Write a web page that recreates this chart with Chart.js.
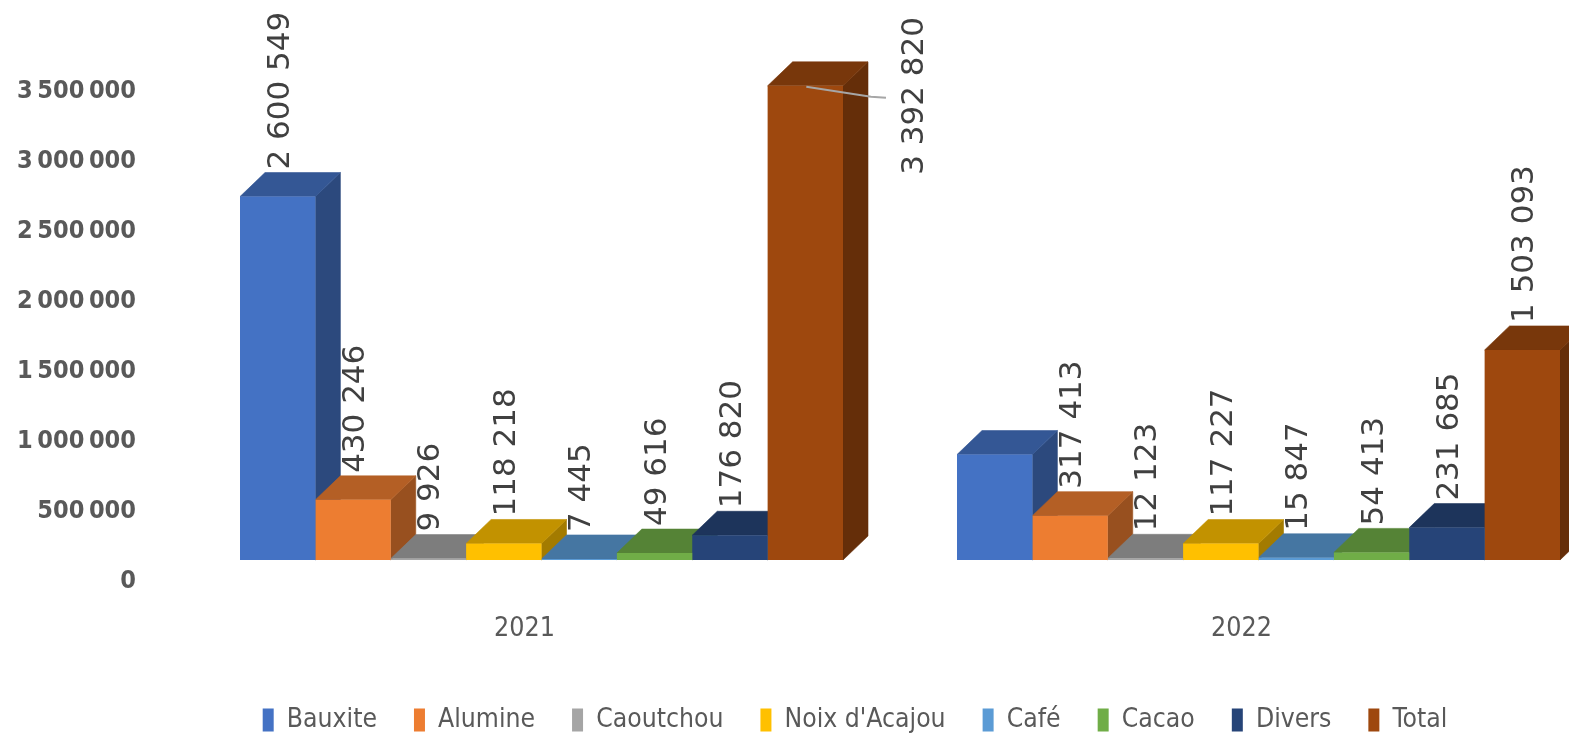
<!DOCTYPE html>
<html>
<head>
<meta charset="utf-8">
<title>Exportations 2021 - 2022</title>
<script src="https://cdn.jsdelivr.net/npm/chart.js@4.4.1/dist/chart.umd.min.js"></script>
<style>
  html, body { margin: 0; padding: 0; background: #fff; overflow: hidden; }
  #wrap { position: relative; width: 1712px; height: 739px; }
</style>
</head>
<body>
<div id="wrap"><canvas id="chart3d"></canvas></div>
<script>
var annees = ["2021", "2022"];
var produits = ["Bauxite", "Alumine", "Caoutchou", "Noix d'Acajou", "Café", "Cacao", "Divers", "Total"];

var bauxite = [2600549, 754385];
var alumine = [430246, 317413];
var caoutchou = [9926, 12123];
var noixAcajou = [118218, 117227];
var cafe = [7445, 15847];
var cacao = [49616, 54413];
var divers = [176820, 231685];
var total = [3392820, 1503093];

var yTicks = [0, 500000, 1000000, 1500000, 2000000, 2500000, 3000000, 3500000];

// etiquette absente sur le graphique d'origine (Bauxite 2022)
var sansEtiquette = { "Bauxite": [false, true] };

var couleurs = ["#4472C4", "#ED7D31", "#A5A5A5", "#FFC000", "#5B9BD5", "#70AD47", "#264478", "#9E480E"];
var series = [bauxite, alumine, caoutchou, noixAcajou, cafe, cacao, divers, total];

var prof = { dx: 25, dy: 24 }; // profondeur de l'effet 3D

function fmt(v, sep) {
  return v.toString().replace(/\B(?=(\d{3})+(?!\d))/g, sep || " ");
}

// police etroite si installee, sinon Open Sans
var mesure = document.createElement("canvas").getContext("2d");
function fontDispo(famille) {
  var t = "3 500 000 Bauxite";
  var diff = false;
  ["monospace", "serif"].forEach(function (f) {
    mesure.font = "40px " + f;
    var a = mesure.measureText(t).width;
    mesure.font = "40px '" + famille + "', " + f;
    if (mesure.measureText(t).width !== a) diff = true;
  });
  return diff;
}
var police = ["Liberation Sans Narrow", "DejaVu Sans Condensed", "Open Sans"].find(fontDispo) || "Open Sans";
function taillePour(texte, largeur, poids) {
  mesure.font = (poids || "normal") + " 100px '" + police + "'";
  return Math.round(100 * largeur / mesure.measureText(texte).width * 10) / 10;
}
var tailleX = taillePour("2021", 61);
var tailleY = taillePour(fmt(3500000, "\u202f"), 119, "bold");
var tailleLeg = taillePour("Bauxite", 90);

var legPadding = 37;
var legItem = Math.max(tailleLeg, 23);
var padBas = 9 - legItem / 2;
var hauteurX = 739 - padBas - (legItem + legPadding + 10) - 560;

function shade(hex, f) {
  var n = parseInt(hex.slice(1), 16);
  var r = Math.round(((n >> 16) & 255) * f);
  var g = Math.round(((n >> 8) & 255) * f);
  var b = Math.round((n & 255) * f);
  return "rgb(" + r + "," + g + "," + b + ")";
}

function face(ctx, pts, color) {
  ctx.fillStyle = color;
  ctx.strokeStyle = color;
  ctx.lineWidth = 0.6;
  ctx.beginPath();
  ctx.moveTo(pts[0][0], pts[0][1]);
  for (var i = 1; i < pts.length; i++) ctx.lineTo(pts[i][0], pts[i][1]);
  ctx.closePath();
  ctx.fill();
  ctx.stroke();
}

var bar3d = {
  id: "bar3d",
  // dessus et cotes, de gauche a droite, avant les faces avant
  beforeDatasetsDraw: function (chart) {
    var ctx = chart.ctx;
    var dx = prof.dx, dy = prof.dy;
    ctx.save();
    for (var j = 0; j < annees.length; j++) {
      chart.data.datasets.forEach(function (ds, i) {
        var bar = chart.getDatasetMeta(i).data[j];
        var p = bar.getProps(["x", "y", "base", "width"], true);
        var l = p.x - p.width / 2, r = p.x + p.width / 2, t = p.y, b = p.base;
        face(ctx, [[r, t], [r + dx, t - dy], [r + dx, b - dy], [r, b]], shade(ds.backgroundColor, 0.64));
        face(ctx, [[l, t], [l + dx, t - dy], [r + dx, t - dy], [r, t]], shade(ds.backgroundColor, 0.76));
      });
    }
    ctx.restore();
  },
  afterDatasetsDraw: function (chart) {
    var ctx = chart.ctx;
    var dx = prof.dx, dy = prof.dy;
    ctx.save();
    ctx.font = "31px 'DejaVu Sans'";
    ctx.fillStyle = "#404040";
    ctx.textBaseline = "middle";
    chart.data.datasets.forEach(function (ds, i) {
      chart.getDatasetMeta(i).data.forEach(function (bar, j) {
        if (sansEtiquette[ds.label] && sansEtiquette[ds.label][j]) return;
        var p = bar.getProps(["x", "y", "width"], true);
        var txt = fmt(ds.data[j]);
        var w = ctx.measureText(txt).width;
        var yb = p.y - dy - 3;
        if (yb - w < 0) {
          // pas de place au-dessus : etiquette a droite avec trait de rappel
          var lx = p.x + p.width / 2 + dx + 47;
          var ly = p.y + 10;
          ctx.strokeStyle = "#A6A6A6";
          ctx.lineWidth = 2;
          ctx.beginPath();
          ctx.moveTo(p.x + 1, p.y + 1);
          ctx.lineTo(lx - 44, ly + 1);
          ctx.lineTo(lx - 29, ly + 2);
          ctx.stroke();
          ctx.save();
          ctx.translate(lx, ly);
          ctx.rotate(-Math.PI / 2);
          ctx.textAlign = "center";
          ctx.fillText(txt, 0, 0);
          ctx.restore();
        } else {
          ctx.save();
          ctx.translate(p.x + 3, yb);
          ctx.rotate(-Math.PI / 2);
          ctx.textAlign = "left";
          ctx.fillText(txt, 0, 0);
          ctx.restore();
        }
      });
    });
    ctx.restore();
  }
};

var ctx = document.getElementById("chart3d").getContext("2d");

var myChart = new Chart(ctx, {
  type: "bar",
  data: {
    labels: annees,
    datasets: produits.map(function (nom, i) {
      return {
        label: nom,
        data: series[i],
        backgroundColor: couleurs[i],
        borderWidth: 0,
        categoryPercentage: 0.841,
        barPercentage: 1
      };
    })
  },
  options: {
    responsive: true,
    maintainAspectRatio: false,
    animation: false,
    layout: {
      padding: { top: 1, left: 15, right: 17, bottom: padBas }
    },
    scales: {
      x: {
        grid: { display: false, drawTicks: false },
        border: { display: false },
        ticks: {
          color: "#595959",
          font: { family: "'" + police + "'", size: tailleX },
          padding: 53,
          labelOffset: -17
        },
        afterFit: function (scale) {
          scale.height = hauteurX;
          scale.paddingLeft = 0;
          scale.paddingRight = 0;
        }
      },
      y: {
        min: 0,
        max: 4000000,
        grid: { display: false, drawTicks: false },
        border: { display: false },
        afterBuildTicks: function (axis) {
          axis.ticks = yTicks.map(function (v) { return { value: v }; });
        },
        afterFit: function (scale) {
          scale.width = 168;
          scale.paddingTop = 0;
          scale.paddingBottom = 0;
        },
        ticks: {
          color: "#595959",
          font: { family: "'" + police + "'", size: tailleY, weight: "bold" },
          padding: 47,
          labelOffset: 21,
          callback: function (value) {
            return fmt(value, "\u202f");
          }
        }
      },
      // axe vide a droite : garde la zone du graphique decalee comme l'original
      y2: {
        position: "right",
        min: 0,
        max: 4000000,
        grid: { display: false, drawTicks: false },
        border: { display: false },
        ticks: { display: false },
        afterFit: function (scale) {
          scale.width = 78;
          scale.paddingTop = 0;
          scale.paddingBottom = 0;
        }
      }
    },
    plugins: {
      legend: {
        display: true,
        position: "bottom",
        labels: {
          color: "#595959",
          font: { family: "'" + police + "'", size: tailleLeg },
          boxWidth: 11,
          boxHeight: 23,
          padding: legPadding
        }
      },
      tooltip: { enabled: false }
    }
  },
  plugins: [bar3d]
});
</script>
</body>
</html>
